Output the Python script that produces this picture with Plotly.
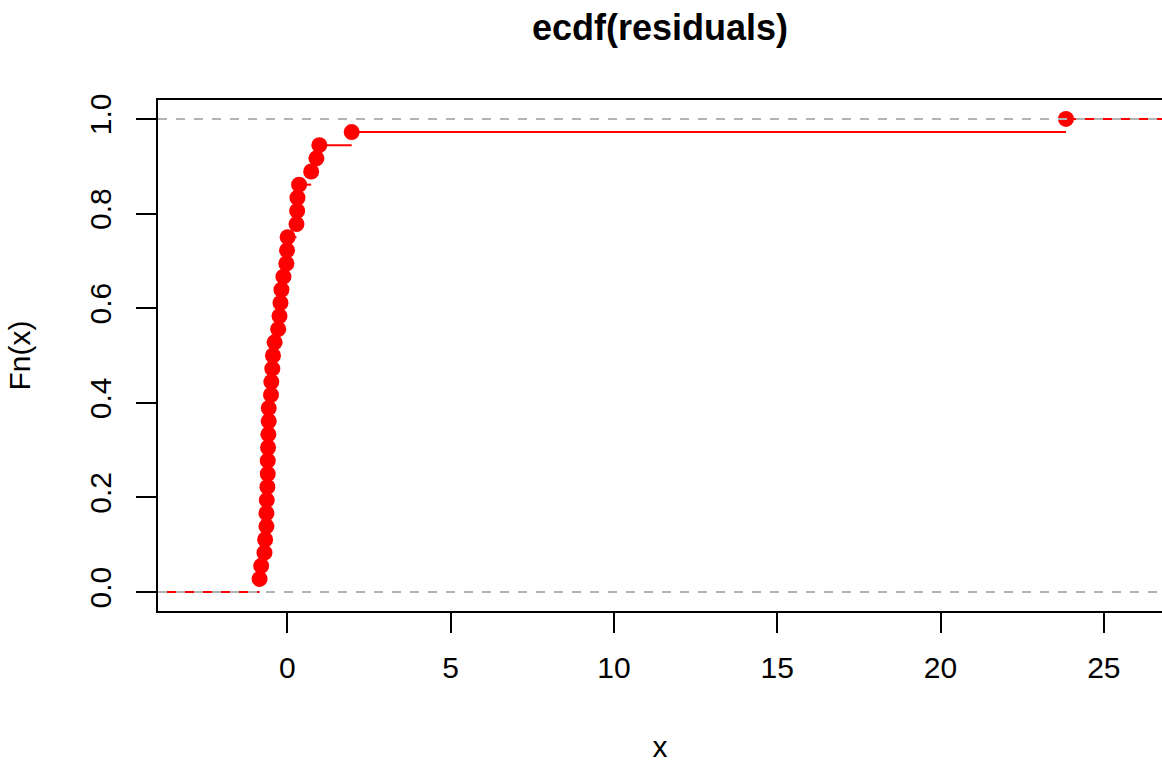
import plotly.graph_objects as go

# Sorted residuals (knots of the ECDF)
residuals = [-0.85, -0.80, -0.70, -0.68, -0.64, -0.64, -0.63, -0.61, -0.60, -0.60,
             -0.59, -0.58, -0.57, -0.57, -0.50, -0.49, -0.46, -0.44, -0.39, -0.28,
             -0.24, -0.21, -0.18, -0.12, -0.03, -0.01, 0.01, 0.28, 0.30, 0.31,
             0.36, 0.73, 0.89, 0.98, 1.97, 23.84]
n = len(residuals)
fn_values = [(k + 1) / n for k in range(n)]

x_ticks = [0, 5, 10, 15, 20, 25]
y_ticks = [0.0, 0.2, 0.4, 0.6, 0.8, 1.0]
y_ticklabels = ["0.0", "0.2", "0.4", "0.6", "0.8", "1.0"]
x_range = [-3.96, 26.78]
y_range = [-0.04, 1.04]

FONT = "Liberation Sans, Arial, Helvetica, sans-serif"
RED = "#ff0000"

# horizontal step segments (no verticals)
knots_ext = [x_range[0] - 2] + residuals + [x_range[1] + 2]
levels = [0.0] + fn_values
seg_x, seg_y = [], []
for i, lv in enumerate(levels):
    seg_x += [knots_ext[i], knots_ext[i + 1], None]
    seg_y += [lv, lv, None]

fig = go.Figure()
fig.add_trace(go.Scatter(x=seg_x, y=seg_y, mode="lines",
                         line=dict(color=RED, width=2), hoverinfo="skip",
                         showlegend=False, connectgaps=False))
fig.add_trace(go.Scatter(x=residuals, y=fn_values, mode="markers",
                         marker=dict(color=RED, size=16, line=dict(width=0)),
                         showlegend=False))

for h in (0, 1):
    fig.add_hline(y=h, line=dict(color="#b3b3b3", width=2, dash="9px,9px"), layer="above")

fig.update_layout(
    width=1162, height=763,
    margin=dict(l=158, r=0, t=100, b=152),
    paper_bgcolor="white", plot_bgcolor="white",
    font=dict(family=FONT, size=30, color="black"),
    title=dict(text="ecdf(residuals)", x=0.5, xref="paper", xanchor="center",
               y=1 - 27 / 763, yref="container", yanchor="middle",
               font=dict(family=FONT, size=36, color="black", weight="bold")),
    xaxis=dict(range=x_range, tickvals=x_ticks, ticks="outside", ticklen=20,
               tickwidth=2, tickcolor="black", showline=True, linecolor="black",
               linewidth=2, mirror=True, showgrid=False, zeroline=False,
               ticklabelstandoff=9,
               title=dict(text="x", standoff=54, font=dict(size=30))),
    yaxis=dict(range=y_range, tickvals=y_ticks, ticktext=y_ticklabels,
               tickangle=-90, ticks="outside", ticklen=20, tickwidth=2,
               tickcolor="black", showline=True, linecolor="black", linewidth=2,
               mirror=False, showgrid=False, zeroline=False,
               ticklabelstandoff=13,
               title=dict(text="Fn(x)", standoff=45, font=dict(size=30))),
)

fig.write_html("out.html")
